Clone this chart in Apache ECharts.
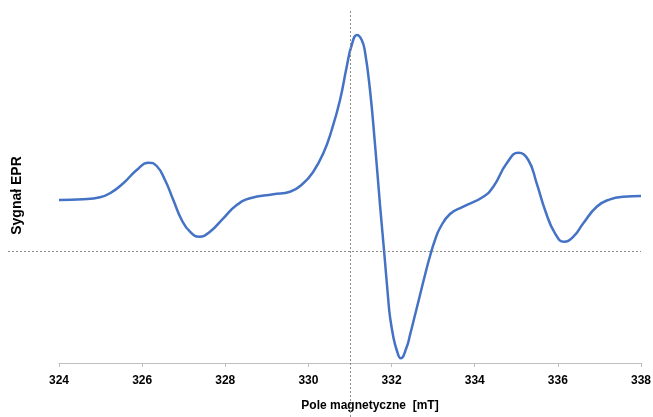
<!DOCTYPE html>
<html>
<head>
<meta charset="utf-8">
<script src="https://cdn.jsdelivr.net/npm/echarts@6/dist/echarts.min.js"></script>
<style>html,body{margin:0;padding:0;background:#fff}#c{width:653px;height:417px}</style>
</head>
<body>
<div id="c"></div>
<script>
// Magnetic field (mT)
const field = [324.00,324.585,324.986,325.227,325.547,325.869,326.148,326.350,326.550,326.750,326.952,327.151,327.375,327.632,327.952,328.275,328.595,329.155,329.557,329.877,330.117,330.358,330.560,330.760,330.921,331.041,331.168,331.282,331.361,331.481,331.601,331.722,331.818,331.921,331.962,332.042,332.123,332.220,332.364,332.443,332.564,332.684,332.804,332.925,333.045,333.165,333.406,333.726,334.207,334.447,334.770,335.049,335.289,335.491,335.691,335.931,336.148,336.372,336.612,336.935,337.255,337.574,338.00];
// EPR signal (arbitrary units)
const signal = [163,163.7,165.7,169.7,179.7,193,200.3,197,183,163,143,131.3,126.3,131.3,144.7,158,164.7,168.7,171.3,179.7,191.3,209.7,233,263,296.3,318,328,323,311,273,219,158,113,63,46.3,26.3,13,4.7,16,28,48,68,88,107,123,135,149,156.3,166.3,176.3,199.7,210.3,203,179.7,153,129.7,121.3,126.3,139.7,156.3,163.7,166.3,167];
const xTicks = [324,326,328,330,332,334,336,338];
const refField = 331.0;     // vertical dashed reference
const refSignal = 111.3;    // horizontal dashed reference
const yRange = [0, 353];

// layout
const W = 653, H = 417;
const main = {left:59, right:12, top:10, bottom:54};
const full = {left:8, right:12, top:10, bottom:0};
const xMin = xTicks[0], xMax = xTicks[xTicks.length-1];
const perPxX = (xMax - xMin) / (W - main.left - main.right);
const perPxY = (yRange[1] - yRange[0]) / (H - main.top - main.bottom);
const fullXMin = xMin - (main.left - full.left) * perPxX;
const fullYMin = yRange[0] - (main.bottom - full.bottom) * perPxY;

const chart = echarts.init(document.getElementById('c'), null, {renderer:'canvas'});
const dash = {color:'#8c8c8c', width:1, type:[2,2]};
chart.setOption({
  animation:false,
  grid:[
    Object.assign({containLabel:false, outerBoundsMode:'none'}, main),
    Object.assign({containLabel:false, outerBoundsMode:'none'}, full)
  ],
  xAxis:[
    {type:'value', gridIndex:0, min:xMin, max:xMax, interval:2,
     axisLine:{onZero:false, lineStyle:{color:'#bfbfbf', width:1}},
     axisTick:{show:true, length:4, lineStyle:{color:'#bfbfbf'}},
     splitLine:{show:false},
     axisLabel:{margin:12, color:'#000', fontWeight:'bold', fontSize:12, fontFamily:'Liberation Sans'},
     name:'Pole magnetyczne  [mT]', nameLocation:'middle', nameGap:37,
     nameTextStyle:{color:'#000', fontWeight:'bold', fontSize:12, fontFamily:'Liberation Sans', padding:[0,0,0,40]}
    },
    {type:'value', gridIndex:1, min:fullXMin, max:xMax, show:false}
  ],
  yAxis:[
    {type:'value', gridIndex:0, min:yRange[0], max:yRange[1],
     axisLine:{show:false}, axisTick:{show:false}, axisLabel:{show:false}, splitLine:{show:false},
     name:'Sygnał EPR', nameLocation:'middle', nameRotate:90, nameGap:35,
     nameTextStyle:{color:'#000', fontWeight:'bold', fontSize:14, fontFamily:'Liberation Sans', padding:[0,18,0,0]}
    },
    {type:'value', gridIndex:1, min:fullYMin, max:yRange[1], show:false}
  ],
  series:[
    {type:'line', xAxisIndex:0, yAxisIndex:0, data:field.map((f,i)=>[f, signal[i]]),
     smooth:0.5, showSymbol:false, symbol:'none',
     lineStyle:{color:'#4472C4', width:2.5}
    },
    {type:'line', xAxisIndex:1, yAxisIndex:1, data:[], showSymbol:false,
     markLine:{silent:true, symbol:'none', label:{show:false}, lineStyle:dash,
       data:[{yAxis:refSignal}, {xAxis:refField}]}
    }
  ]
});
</script>
</body>
</html>
